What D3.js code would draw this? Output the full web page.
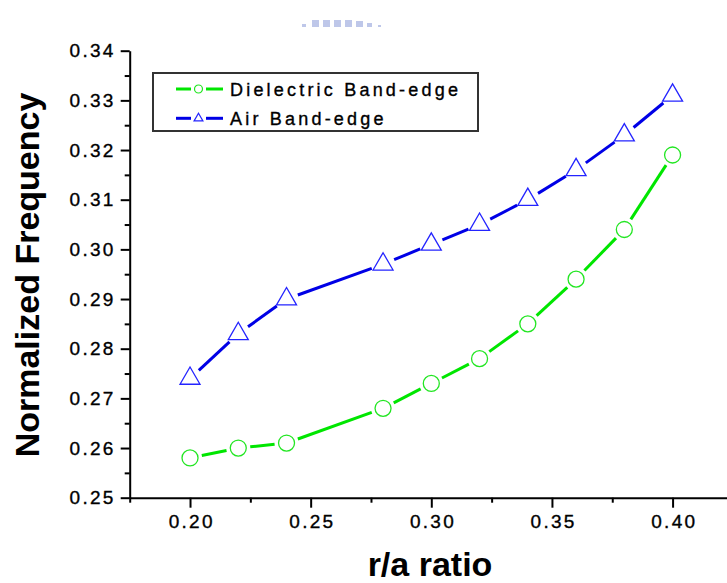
<!DOCTYPE html>
<meta charset="utf-8">
<style>
body { margin: 0; background: #fff; }
svg { display: block; font-family: "Liberation Sans", Arial, sans-serif; }
.axis path { stroke: #000; stroke-width: 2px; }
.axis line { stroke: #000; stroke-width: 2px; }
.axis text { font-size: 19px; letter-spacing: 2.3px; fill: #000; stroke: #000; stroke-width: 0.35px; font-family: "Liberation Sans", Arial, sans-serif; }
.seg { fill: none; stroke-width: 3px; }
.title { font-weight: bold; font-size: 34px; fill: #000; }
.legend text { font-size: 18px; letter-spacing: 3.2px; fill: #000; stroke: #000; stroke-width: 0.35px; }
</style>
<svg width="727" height="583"></svg>
<script src="https://d3js.org/d3.v7.min.js"></script>
<script>

var ratio = [0.20, 0.22, 0.24, 0.28, 0.30, 0.32, 0.34, 0.36, 0.38, 0.40];
var dielectric = [0.258, 0.260, 0.261, 0.268, 0.273, 0.278, 0.285, 0.294, 0.304, 0.319];
var air = [0.274, 0.283, 0.290, 0.297, 0.301, 0.305, 0.310, 0.316, 0.323, 0.331];
var seriesNames = ["Dielectric Band-edge", "Air Band-edge"];

var xTicks = [0.20, 0.25, 0.30, 0.35, 0.40];
var xMinor = [0.175, 0.225, 0.275, 0.325, 0.375, 0.425];
var yTicks = [0.25, 0.26, 0.27, 0.28, 0.29, 0.30, 0.31, 0.32, 0.33, 0.34];
var yMinor = [0.255, 0.265, 0.275, 0.285, 0.295, 0.305, 0.315, 0.325, 0.335];

var svg = d3.select("svg");

// faint scan remnant at the top edge
var smudge = svg.append("g").attr("fill", "#8a9ad8").attr("opacity", 0.55);
[[302, 24, 4, 3], [312, 20, 7, 7], [323, 20, 7, 7], [334, 20, 7, 7], [345, 20, 7, 7], [356, 21, 7, 6], [367, 23, 5, 4], [378, 25, 3, 2]]
  .forEach(function(r) {
    smudge.append("rect").attr("x", r[0]).attr("y", r[1]).attr("width", r[2]).attr("height", r[3]);
  });

var x = d3.scaleLinear().domain([0.175, 0.425]).range([129.7, 732.9]),
    y = d3.scaleLinear().domain([0.25, 0.34]).range([497.7, 50.7]);

// axes
svg.append("g")
    .attr("class", "axis axis--x")
    .attr("transform", "translate(0," + y(0.25) + ")")
    .call(d3.axisBottom(x).tickValues(xTicks).tickFormat(d3.format(".2f"))
      .tickSize(10).tickPadding(7).tickSizeOuter(0))
    .selectAll("text").attr("dx", "1.2px");

svg.append("g")
    .attr("class", "axis axis--x-minor")
    .attr("transform", "translate(0," + y(0.25) + ")")
    .call(d3.axisBottom(x).tickValues(xMinor).tickFormat("").tickSize(5).tickSizeOuter(0))
    .select(".domain").remove();

svg.append("g")
    .attr("class", "axis axis--y")
    .attr("transform", "translate(" + x(0.175) + ",0)")
    .call(d3.axisLeft(y).tickValues(yTicks).tickFormat(d3.format(".2f"))
      .tickSize(9).tickPadding(5).tickSizeOuter(0));

svg.append("g")
    .attr("class", "axis axis--y-minor")
    .attr("transform", "translate(" + x(0.175) + ",0)")
    .call(d3.axisLeft(y).tickValues(yMinor).tickFormat("").tickSize(5).tickSizeOuter(0))
    .select(".domain").remove();

// axis titles
svg.append("text")
    .attr("class", "title")
    .attr("x", 430)
    .attr("y", 576)
    .attr("text-anchor", "middle")
    .text("r/a ratio");

svg.append("text")
    .attr("class", "title")
    .attr("transform", "translate(39," + 275 + ") rotate(-90)")
    .attr("text-anchor", "middle")
    .text("Normalized Frequency");

// series drawn as segments with gaps around markers
var gap = 12;
function segments(values) {
  var pts = ratio.map(function(r, i) { return [x(r), y(values[i])]; });
  return d3.pairs(pts).map(function(p) {
    var dx = p[1][0] - p[0][0], dy = p[1][1] - p[0][1],
        len = Math.sqrt(dx * dx + dy * dy), ux = dx / len, uy = dy / len;
    return [p[0][0] + ux * gap, p[0][1] + uy * gap, p[1][0] - ux * gap, p[1][1] - uy * gap];
  });
}

var series = [
  {name: seriesNames[0], values: dielectric, line: "#00e600", mark: "#22e622", shape: "circle"},
  {name: seriesNames[1], values: air, line: "#0000e6", mark: "#2424ff", shape: "triangle"}
];

var triangle = d3.symbol().type(d3.symbolTriangle).size(173);
var triangleSmall = d3.symbol().type(d3.symbolTriangle).size(34);

series.forEach(function(s) {
  var g = svg.append("g");
  g.selectAll("line")
    .data(segments(s.values))
    .enter().append("line")
      .attr("class", "seg")
      .attr("stroke", s.line)
      .attr("x1", function(d) { return d[0]; })
      .attr("y1", function(d) { return d[1]; })
      .attr("x2", function(d) { return d[2]; })
      .attr("y2", function(d) { return d[3]; });

  if (s.shape === "circle") {
    g.selectAll("circle")
      .data(s.values)
      .enter().append("circle")
        .attr("cx", function(d, i) { return x(ratio[i]); })
        .attr("cy", function(d) { return y(d); })
        .attr("r", 8)
        .attr("fill", "none")
        .attr("stroke", s.mark)
        .attr("stroke-width", 1.3);
  } else {
    g.selectAll("path")
      .data(s.values)
      .enter().append("path")
        .attr("d", triangle)
        .attr("transform", function(d, i) { return "translate(" + x(ratio[i]) + "," + y(d) + ")"; })
        .attr("fill", "none")
        .attr("stroke", s.mark)
        .attr("stroke-width", 1.3);
  }
});

// legend
var legend = svg.append("g").attr("class", "legend");
legend.append("rect")
    .attr("x", 153).attr("y", 73)
    .attr("width", 325).attr("height", 58)
    .attr("fill", "#fff")
    .attr("stroke", "#333")
    .attr("stroke-width", 2);

var rows = legend.selectAll(".row")
    .data(series)
    .enter().append("g")
      .attr("class", "row")
      .attr("transform", function(d, i) { return "translate(0," + (89 + i * 29.3) + ")"; });

rows.append("line").attr("x1", 176).attr("x2", 191).attr("y1", 0).attr("y2", 0)
    .attr("stroke", function(d) { return d.line; }).attr("stroke-width", 3);
rows.append("line").attr("x1", 206).attr("x2", 223).attr("y1", 0).attr("y2", 0)
    .attr("stroke", function(d) { return d.line; }).attr("stroke-width", 3);
rows.each(function(d) {
  var r = d3.select(this);
  if (d.shape === "circle") {
    r.append("circle").attr("cx", 198.5).attr("cy", 0).attr("r", 4)
      .attr("fill", "none").attr("stroke", d.mark).attr("stroke-width", 1.2);
  } else {
    r.append("path").attr("d", triangleSmall).attr("transform", "translate(198.5,0)")
      .attr("fill", "none").attr("stroke", d.mark).attr("stroke-width", 1.2);
  }
});
rows.append("text")
    .attr("x", 230)
    .attr("y", 6.5)
    .text(function(d) { return d.name; });

</script>
